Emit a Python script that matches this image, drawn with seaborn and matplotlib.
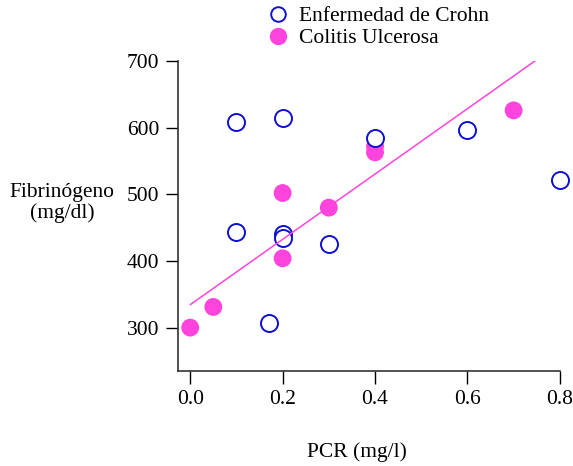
import numpy as np
import pandas as pd
import matplotlib
matplotlib.use("Agg")
import matplotlib.pyplot as plt
import seaborn as sns
from matplotlib.lines import Line2D

# Data
crohn_x = [0.1, 0.2, 0.1, 0.2, 0.2, 0.3, 0.17, 0.4, 0.6, 0.8]
crohn_y = [609, 615, 443, 440, 435, 426, 307, 585, 597, 522]
colitis_x = [0.0, 0.05, 0.2, 0.2, 0.3, 0.4, 0.4, 0.7]
colitis_y = [300, 331, 502, 404, 480, 572, 563, 626]
x_ticks = [0.0, 0.2, 0.4, 0.6, 0.8]
y_ticks = [300, 400, 500, 600, 700]

crohn = pd.DataFrame({"PCR": crohn_x, "Fib": crohn_y})
colitis = pd.DataFrame({"PCR": colitis_x, "Fib": colitis_y})

sns.set_style("ticks")
plt.rcParams["font.family"] = ["Liberation Serif", "DejaVu Serif"]
plt.rcParams["font.size"] = 15.5
plt.rcParams["text.color"] = "black"

blue = "#1010d0"
pink = "#ff44dd"

fig = plt.figure(figsize=(5.73, 4.66), dpi=100)
ax = fig.add_axes([0.311, 0.204, 0.666, 0.665])

sns.scatterplot(data=colitis, x="PCR", y="Fib", ax=ax, s=165, color=pink,
                edgecolor="none", clip_on=False, zorder=2)
sns.scatterplot(data=crohn, x="PCR", y="Fib", ax=ax, s=150, facecolor="white",
                edgecolor=blue, linewidth=1.4, clip_on=False, zorder=3)

# regression line fitted on Colitis Ulcerosa
slope, intercept = np.polyfit(colitis_x, colitis_y, 1)
xl = np.array([0.0, 0.75])
ax.plot(xl, intercept + slope * xl, color=pink, lw=1.1, zorder=4)

ax.set_xlim(-0.026, 0.8)
ax.set_ylim(235, 700)
ax.set_xticks(x_ticks)
ax.set_xticklabels([f"{t:.1f}" for t in x_ticks])
ax.set_yticks(y_ticks)
ax.tick_params(length=9, width=1, colors="black", labelsize=15.5, pad=4.5)
for s in ["top", "right"]:
    ax.spines[s].set_visible(False)
for s in ["left", "bottom"]:
    ax.spines[s].set_color("#333333")
    ax.spines[s].set_linewidth(1.2)

ax.set_xlabel("")
ax.set_ylabel("")
fig.text(357 / 573, 1 - 452 / 466, "PCR (mg/l)", ha="center", va="center",
         fontsize=15.5, color="black")
fig.text(62 / 573, 1 - 203 / 466, "Fibrinógeno\n(mg/dl)", ha="center", va="center",
         fontsize=15.5, linespacing=1.15, color="black")

handles = [
    Line2D([], [], marker="o", ls="", markersize=10.5, markerfacecolor="white",
           markeredgecolor=blue, markeredgewidth=1.4),
    Line2D([], [], marker="o", ls="", markersize=11.5, markerfacecolor=pink,
           markeredgecolor=pink),
]
leg = fig.legend(handles, ["Enfermedad de Crohn", "Colitis Ulcerosa"], loc="upper left",
                 bbox_to_anchor=(256 / 573, 1 - 6 / 466), frameon=False, fontsize=15.5,
                 handletextpad=0.0, labelspacing=0.1, borderaxespad=0, borderpad=0)
for t in leg.get_texts():
    t.set_color("black")

fig.savefig("out.png", dpi=100)
